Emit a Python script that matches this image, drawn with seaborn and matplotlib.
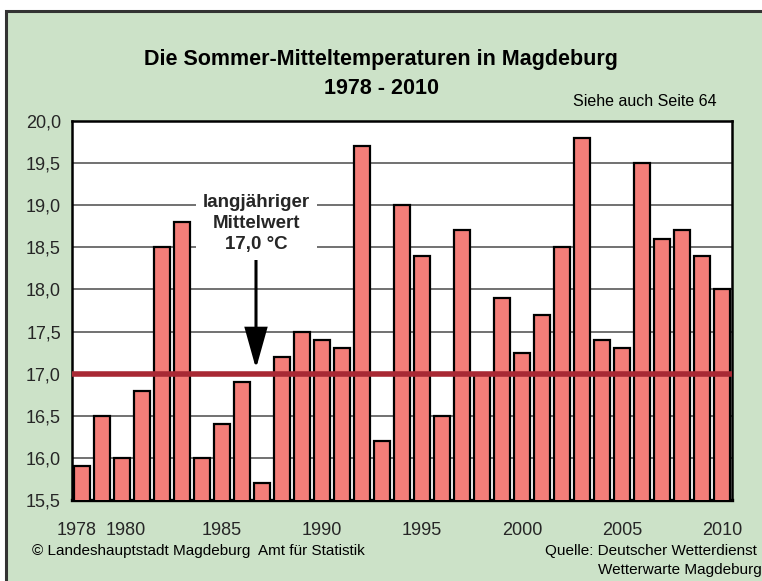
import matplotlib
matplotlib.use('Agg')
import matplotlib.pyplot as plt
import matplotlib.transforms as mtransforms
from matplotlib.patches import Rectangle
import seaborn as sns

# Sommer-Mitteltemperaturen Magdeburg (°C)
years = list(range(1978, 2011))
temps = [15.9, 16.5, 16.0, 16.8, 18.5, 18.8, 16.0, 16.4, 16.9, 15.7,
         17.2, 17.5, 17.4, 17.3, 19.7, 16.2, 19.0, 18.4, 16.5, 18.7,
         17.0, 17.9, 17.25, 17.7, 18.5, 19.8, 17.4, 17.3, 19.5, 18.6,
         18.7, 18.4, 18.0]
mean_value = 17.0
label_years = [1978, 1980, 1985, 1990, 1995, 2000, 2005, 2010]
y_ticks = [15.5, 16.0, 16.5, 17.0, 17.5, 18.0, 18.5, 19.0, 19.5, 20.0]

green = '#cce2c8'
bar_col = '#f47e79'
line_col = '#a82934'

sns.set_style('white')
plt.rcParams['font.family'] = ['Liberation Sans', 'DejaVu Sans']

fig = plt.figure(figsize=(7.62, 5.81), dpi=100)
fig.patch.set_facecolor('white')
# green panel with dark border (cut off right and bottom)
panel = Rectangle((6 / 762, -0.1), 1.2, 1.1 - 11 / 581,
                  transform=fig.transFigure, facecolor=green,
                  edgecolor='#333333', linewidth=2.2, zorder=-10)
fig.add_artist(panel)

ax = fig.add_axes([72 / 762, 1 - 500 / 581, 660 / 762, 379 / 581])
ax.set_facecolor('white')
ax.set_zorder(1)

sns.barplot(x=[str(y) for y in years], y=temps, color=bar_col, saturation=1,
            edgecolor='black', linewidth=1.6, width=0.8, ax=ax, zorder=3)

ax.set_ylim(15.5, 20.0)
ax.set_xlim(-0.5, len(years) - 0.5)
ax.set_yticks(y_ticks)
ax.set_yticklabels([f'{v:.1f}'.replace('.', ',') for v in y_ticks], fontsize=13)
ax.yaxis.grid(True, color='#666666', linewidth=1.3, zorder=1)
ax.set_axisbelow(True)

ax.set_xticks([years.index(y) for y in label_years])
ax.set_xticklabels([str(y) for y in label_years], fontsize=13)
ax.set_xticks([i - 0.5 for i in range(1, len(years))], minor=True)
ax.tick_params(axis='x', which='major', length=0, pad=16)
ax.tick_params(axis='x', which='minor', length=4, width=1.2, direction='out', color='black')
ax.tick_params(axis='y', length=5, width=1.2, direction='out', color='black', pad=3)
ax.set_xlabel('')
ax.set_ylabel('')
# push the first two year labels apart a little, as in the original
for lbl, dx in zip(ax.get_xticklabels()[:2], [-5, 4]):
    lbl.set_transform(lbl.get_transform() + mtransforms.ScaledTranslation(dx / 100, 0, fig.dpi_scale_trans))

for s in ax.spines.values():
    s.set_visible(True)
    s.set_color('black')
    s.set_linewidth(1.8)
ax.spines['bottom'].set_linewidth(2.4)

ax.axhline(mean_value, color=line_col, linewidth=4, zorder=5)

ax.annotate('', xy=(8.7, 17.06), xytext=(8.7, 18.35),
            arrowprops=dict(arrowstyle='-|>,head_length=2.5,head_width=0.7',
                            color='black', lw=2.2, shrinkA=0, shrinkB=0,
                            joinstyle='miter'), zorder=6)
ax.text(8.7, 18.78, 'langjähriger\nMittelwert\n17,0 °C', ha='center', va='center',
        fontsize=13.5, fontweight='bold', linespacing=1.3, zorder=6,
        bbox=dict(facecolor='white', edgecolor='none', pad=5))

fig.text(381 / 762, 1 - 60 / 581, 'Die Sommer-Mitteltemperaturen in Magdeburg',
         ha='center', va='center', fontsize=15.5, fontweight='bold', color='black')
fig.text(381 / 762, 1 - 88 / 581, '1978 - 2010', ha='center', va='center',
         fontsize=15.5, fontweight='bold', color='black')
fig.text(717 / 762, 1 - 102 / 581, 'Siehe auch Seite 64', ha='right', va='center',
         fontsize=11.5, color='black')
fig.text(32 / 762, 1 - 551 / 581, '© Landeshauptstadt Magdeburg  Amt für Statistik',
         ha='left', va='center', fontsize=11, color='black')
fig.text(757 / 762, 1 - 551 / 581, 'Quelle: Deutscher Wetterdienst', ha='right',
         va='center', fontsize=11, color='black')
fig.text(762 / 762, 1 - 570 / 581, 'Wetterwarte Magdeburg', ha='right',
         va='center', fontsize=11, color='black')

fig.savefig('out.png', dpi=100)
